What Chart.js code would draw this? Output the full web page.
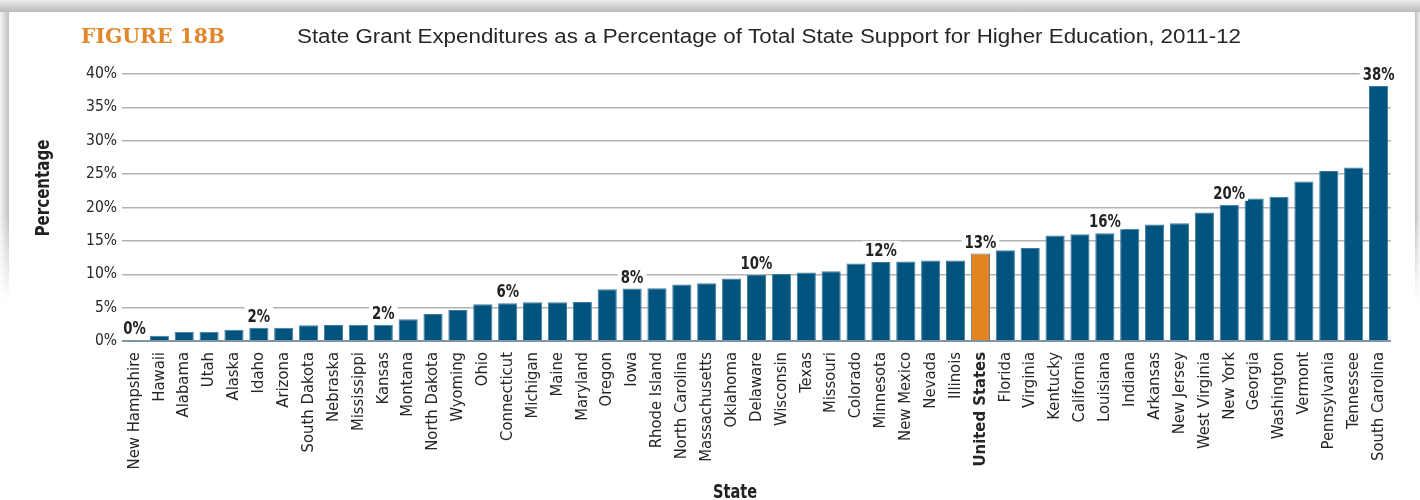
<!DOCTYPE html>
<html>
<head>
<meta charset="utf-8">
<title>State Grant Expenditures, 2011-12</title>
<script src="https://cdn.jsdelivr.net/npm/chart.js@4.4.0/dist/chart.umd.min.js"></script>
<style>
  html, body { margin: 0; padding: 0; background: #fff; }
  #wrap { position: relative; width: 1420px; height: 500px; overflow: hidden; background: #fff; }
  #chart { position: absolute; left: 0; top: 0; }
  .edge { position: absolute; pointer-events: none; }
  #edgeTop { left: 0; top: 0; width: 1420px; height: 12px;
    background: linear-gradient(to bottom, #ececec, #bababa); }
  #edgeLeft { left: 0; top: 12px; width: 9px; height: 290px;
    background: linear-gradient(to right, #f4f4f4, #c0c0c0);
    -webkit-mask-image: linear-gradient(to bottom, #000 70%, transparent);
    mask-image: linear-gradient(to bottom, #000 70%, transparent); }
  #edgeRight { left: 1415px; top: 12px; width: 5px; height: 290px;
    background: linear-gradient(to left, #f0f0f0, #bdbdbd);
    -webkit-mask-image: linear-gradient(to bottom, #000 70%, transparent);
    mask-image: linear-gradient(to bottom, #000 70%, transparent); }
</style>
</head>
<body>
<div id="wrap">
  <canvas id="chart" width="1420" height="500"></canvas>
  <div class="edge" id="edgeTop"></div>
  <div class="edge" id="edgeLeft"></div>
  <div class="edge" id="edgeRight"></div>
</div>
<script>
// States ordered by grant share, with the national figure among them
const states = [
  'New Hampshire', 'Hawaii', 'Alabama', 'Utah', 'Alaska', 'Idaho', 'Arizona',
  'South Dakota', 'Nebraska', 'Mississippi', 'Kansas', 'Montana', 'North Dakota',
  'Wyoming', 'Ohio', 'Connecticut', 'Michigan', 'Maine', 'Maryland', 'Oregon',
  'Iowa', 'Rhode Island', 'North Carolina', 'Massachusetts', 'Oklahoma',
  'Delaware', 'Wisconsin', 'Texas', 'Missouri', 'Colorado', 'Minnesota',
  'New Mexico', 'Nevada', 'Illinois', 'United States', 'Florida', 'Virginia',
  'Kentucky', 'California', 'Louisiana', 'Indiana', 'Arkansas', 'New Jersey',
  'West Virginia', 'New York', 'Georgia', 'Washington', 'Vermont',
  'Pennsylvania', 'Tennessee', 'South Carolina'
];

// Grant expenditures as % of total state support
const grantShare = [
  0.1, 0.8, 1.4, 1.4, 1.7, 2.0, 2.0,
  2.35, 2.4, 2.45, 2.45, 3.25, 4.05,
  4.65, 5.5, 5.65, 5.8, 5.8, 5.85, 7.75,
  7.85, 7.9, 8.45, 8.65, 9.35,
  9.9, 10.05, 10.25, 10.45, 11.6, 11.85,
  11.9, 12.05, 12.05, 13.1, 13.6, 13.95,
  15.8, 16.0, 16.15, 16.8, 17.45, 17.65,
  19.25, 20.4, 21.35, 21.6, 23.9,
  25.45, 26.0, 38.2
];

// Bars that carry a value label
const labeledStates = [
  'New Hampshire', 'Idaho', 'Kansas', 'Connecticut', 'Iowa', 'Delaware',
  'Minnesota', 'United States', 'Louisiana', 'New York', 'South Carolina'
];

// Y-axis tick values
const yTicks = [0, 5, 10, 15, 20, 25, 30, 35, 40];

const NATIONAL = 'United States';
const NARROW = "'Liberation Sans Narrow', 'Arial Narrow', 'DejaVu Sans Condensed', sans-serif";
const BLUE = '#02547F';
const ORANGE = '#E5831F';

const barFill = states.map(s => s === NATIONAL ? ORANGE : BLUE);
const barEdge = states.map(s => s === NATIONAL ? '#5f7f93' : '#3d7ba0');

// Draws text squeezed or stretched horizontally to a given width
function fitText(ctx, text, x, y, width, align) {
  const w = ctx.measureText(text).width;
  const k = width / w;
  ctx.save();
  ctx.translate(x, y);
  ctx.scale(k, 1);
  ctx.textAlign = align;
  ctx.fillText(text, 0, 0);
  ctx.restore();
}

const valueLabels = {
  id: 'valueLabels',
  afterDatasetsDraw(chart) {
    const ctx = chart.ctx;
    const meta = chart.getDatasetMeta(0);
    const squeeze = 0.87;
    ctx.save();
    ctx.font = `bold 17px ${NARROW}`;
    ctx.textAlign = 'center';
    ctx.textBaseline = 'alphabetic';
    labeledStates.forEach(name => {
      const i = states.indexOf(name);
      const bar = meta.data[i];
      const txt = Math.round(grantShare[i]) + '%';
      const w = ctx.measureText(txt).width * squeeze;
      const base = bar.y - 6;
      ctx.fillStyle = '#ffffff';
      ctx.fillRect(bar.x - w / 2 - 3, base - 15, w + 6, 17);
      ctx.fillStyle = '#222222';
      ctx.save();
      ctx.translate(bar.x, base);
      ctx.scale(squeeze, 1);
      ctx.fillText(txt, 0, 0);
      ctx.restore();
    });
    ctx.restore();
  }
};

const headings = {
  id: 'headings',
  afterDraw(chart) {
    const ctx = chart.ctx;
    ctx.save();
    ctx.textBaseline = 'alphabetic';

    ctx.fillStyle = '#E2862B';
    ctx.font = "bold 21px 'DejaVu Serif', serif";
    fitText(ctx, 'FIGURE 18B', 81, 43, 144, 'left');

    ctx.fillStyle = '#262626';
    ctx.font = "20px 'Liberation Sans', Arial, sans-serif";
    fitText(ctx, 'State Grant Expenditures as a Percentage of Total State Support for Higher Education, 2011-12', 297, 43, 944, 'left');

    ctx.fillStyle = '#222222';
    ctx.font = `bold 20px ${NARROW}`;
    ctx.textBaseline = 'middle';
    ctx.save();
    ctx.translate(44, 188);
    ctx.rotate(-Math.PI / 2);
    fitText(ctx, 'Percentage', 0, 0, 97, 'center');
    ctx.restore();

    ctx.textBaseline = 'alphabetic';
    fitText(ctx, 'State', 735, 498, 44, 'center');
    ctx.restore();
  }
};

new Chart(document.getElementById('chart'), {
  type: 'bar',
  data: {
    labels: states,
    datasets: [{
      data: grantShare,
      backgroundColor: barFill,
      borderColor: barEdge,
      borderWidth: 1,
      categoryPercentage: 1,
      barPercentage: 0.77
    }]
  },
  options: {
    responsive: false,
    animation: false,
    devicePixelRatio: 1,
    layout: { padding: { left: 0, top: 74, right: 29, bottom: 0 } },
    plugins: { legend: { display: false }, tooltip: { enabled: false } },
    scales: {
      x: {
        grid: { display: false },
        border: { display: false },
        ticks: {
          autoSkip: false,
          minRotation: 90,
          maxRotation: 90,
          padding: 3,
          color: '#262626',
          font: (c) => ({
            family: NARROW,
            size: 16.5,
            weight: (c.tick && c.tick.label === NATIONAL) ? 'bold' : 'normal'
          })
        },
        afterFit: (s) => { s.height = 159; }
      },
      y: {
        min: 0,
        max: 40,
        afterBuildTicks: (s) => { s.ticks = yTicks.map(v => ({ value: v })); },
        ticks: {
          callback: (v) => v + '%',
          padding: 5,
          color: '#262626',
          font: { family: NARROW, size: 15.5 }
        },
        grid: {
          drawTicks: false,
          color: (c) => c.tick.value === 0 ? '#8195a3' : '#b3b3b3',
          lineWidth: (c) => c.tick.value === 0 ? 2 : 1.5
        },
        border: { display: false },
        afterFit: (s) => { s.width = 122; }
      }
    }
  },
  plugins: [valueLabels, headings]
});
</script>
</body>
</html>
